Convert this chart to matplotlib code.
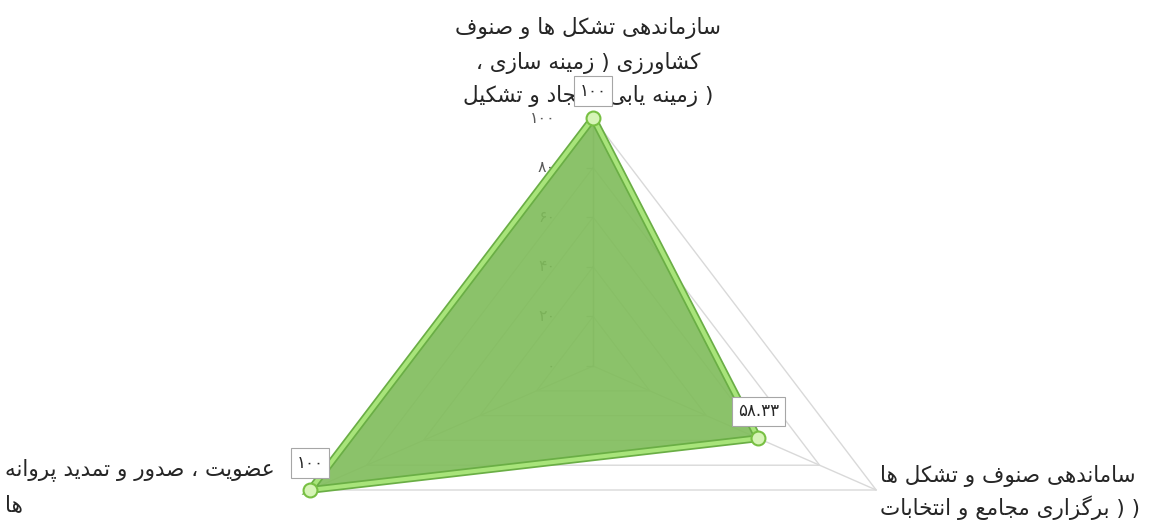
import numpy as np
import matplotlib
matplotlib.use('Agg')
import matplotlib.pyplot as plt

plt.rcParams['font.family'] = ['DejaVu Sans']

# chart data (category lines are in logical persian order)
categories = [
    ["سازماندهی تشکل ها و صنوف", "کشاورزی ( زمینه سازی ،", "( زمینه یابی ، ایجاد و تشکیل"],
    ["ساماندهی صنوف و تشکل ها", "( ( برگزاری مجامع و انتخابات"],
    ["عضویت ، صدور و تمدید پروانه", "ها"],
]
values = [100, 58.33, 100]
ticks = [0, 20, 40, 60, 80, 100]

# --- tiny persian shaper: matplotlib does no arabic shaping / bidi ---
FORMS = {}
for ch, start, n in [('ا', 0xFE8D, 2), ('ب', 0xFE8F, 4), ('ت', 0xFE95, 4), ('ج', 0xFE9D, 4),
                     ('خ', 0xFEA5, 4), ('د', 0xFEA9, 2), ('ر', 0xFEAD, 2), ('ز', 0xFEAF, 2),
                     ('س', 0xFEB1, 4), ('ش', 0xFEB5, 4), ('ص', 0xFEB9, 4), ('ض', 0xFEBD, 4),
                     ('ع', 0xFEC9, 4), ('ف', 0xFED1, 4), ('ل', 0xFEDD, 4), ('م', 0xFEE1, 4),
                     ('ن', 0xFEE5, 4), ('ه', 0xFEE9, 4), ('و', 0xFEED, 2), ('پ', 0xFB56, 4),
                     ('ژ', 0xFB8A, 2), ('ک', 0xFB8E, 4), ('گ', 0xFB92, 4), ('ی', 0xFBFC, 4)]:
    FORMS[ch] = [chr(start + k) for k in range(n)]
MIRROR = {'(': ')', ')': '('}


def fa(s):
    out = []
    for i, c in enumerate(s):
        if c not in FORMS:
            out.append(MIRROR.get(c, c))
            continue
        prev = s[i - 1] if i > 0 else ''
        nxt = s[i + 1] if i + 1 < len(s) else ''
        jp = prev in FORMS and len(FORMS[prev]) == 4
        jn = nxt in FORMS and len(FORMS[c]) == 4
        f = FORMS[c]
        if jp and jn:
            out.append(f[3])
        elif jp:
            out.append(f[1])
        elif jn:
            out.append(f[2])
        else:
            out.append(f[0])
    return ''.join(out)[::-1]


def fa_num(v):
    s = ('%g' % v)
    return s.translate(str.maketrans('0123456789', '۰۱۲۳۴۵۶۷۸۹'))


fig = plt.figure(figsize=(11.68, 5.21), dpi=100)
ax = fig.add_axes([0, 0, 1, 1])
ax.set_xlim(-181.5, 175.9)
ax.set_ylim(-62.5, 147.6)
ax.axis('off')

ang = np.deg2rad([0, 120, 240])
sx, sy = np.sin(ang), np.cos(ang)

# grid triangles and spokes
for t in ticks[1:]:
    ax.plot(np.append(t * sx, t * sx[0]), np.append(t * sy, t * sy[0]),
            color='#d9d9d9', lw=1, zorder=1)
for a in range(3):
    ax.plot([0, 100 * sx[a]], [0, 100 * sy[a]], color='#d9d9d9', lw=1, zorder=1)
ax.plot([0, 0], [0, 100], color='#bfbfbf', lw=1, zorder=2)
ax.plot(np.zeros(len(ticks)), ticks, ls='none', marker=0, ms=5, color='#bfbfbf', zorder=2)
for t in ticks:
    ax.annotate(fa_num(t), (0, t), xytext=(-38, 0), textcoords='offset pixels',
                ha='right', va='center', fontsize=11.5, color='#595959', zorder=2)

# series
vx = np.array(values) * sx
vy = np.array(values) * sy
ax.fill(vx, vy, color='#7fbc5a', alpha=0.9, zorder=3, lw=0)
ax.plot(np.append(vx, vx[0]), np.append(vy, vy[0]), color='#6aae45', lw=5.5, zorder=4,
        solid_joinstyle='miter')
ax.plot(np.append(vx, vx[0]), np.append(vy, vy[0]), color='#a8e47a', lw=3, zorder=5,
        solid_joinstyle='miter')
ax.plot(vx, vy, ls='none', marker='o', ms=10, mfc='#d6f4b6', mec='#78c043', mew=1.5, zorder=6)

# category labels
label_pos = [[(-5, 90, 'center'), (-5, 55, 'center'), (-5, 22, 'center')],
             [(4, 14, 'left'), (4, -18, 'left')],
             [(-305, 20, 'left'), (-305, -15, 'left')]]
for k in range(3):
    for line, (dx, dy, ha) in zip(categories[k], label_pos[k]):
        ax.annotate(fa(line), (100 * sx[k], 100 * sy[k]), xytext=(dx, dy),
                    textcoords='offset pixels', ha=ha, va='center', fontsize=15.5,
                    color='#262626', zorder=7)

# data labels
for k in range(3):
    ax.annotate(fa_num(values[k]), (vx[k], vy[k]), xytext=(0, 27), textcoords='offset pixels',
                ha='center', va='center', fontsize=12, color='#262626', zorder=8,
                bbox=dict(boxstyle='square,pad=0.35', fc='white', ec='#a6a6a6', lw=0.8))

fig.savefig('out.png', dpi=100)
